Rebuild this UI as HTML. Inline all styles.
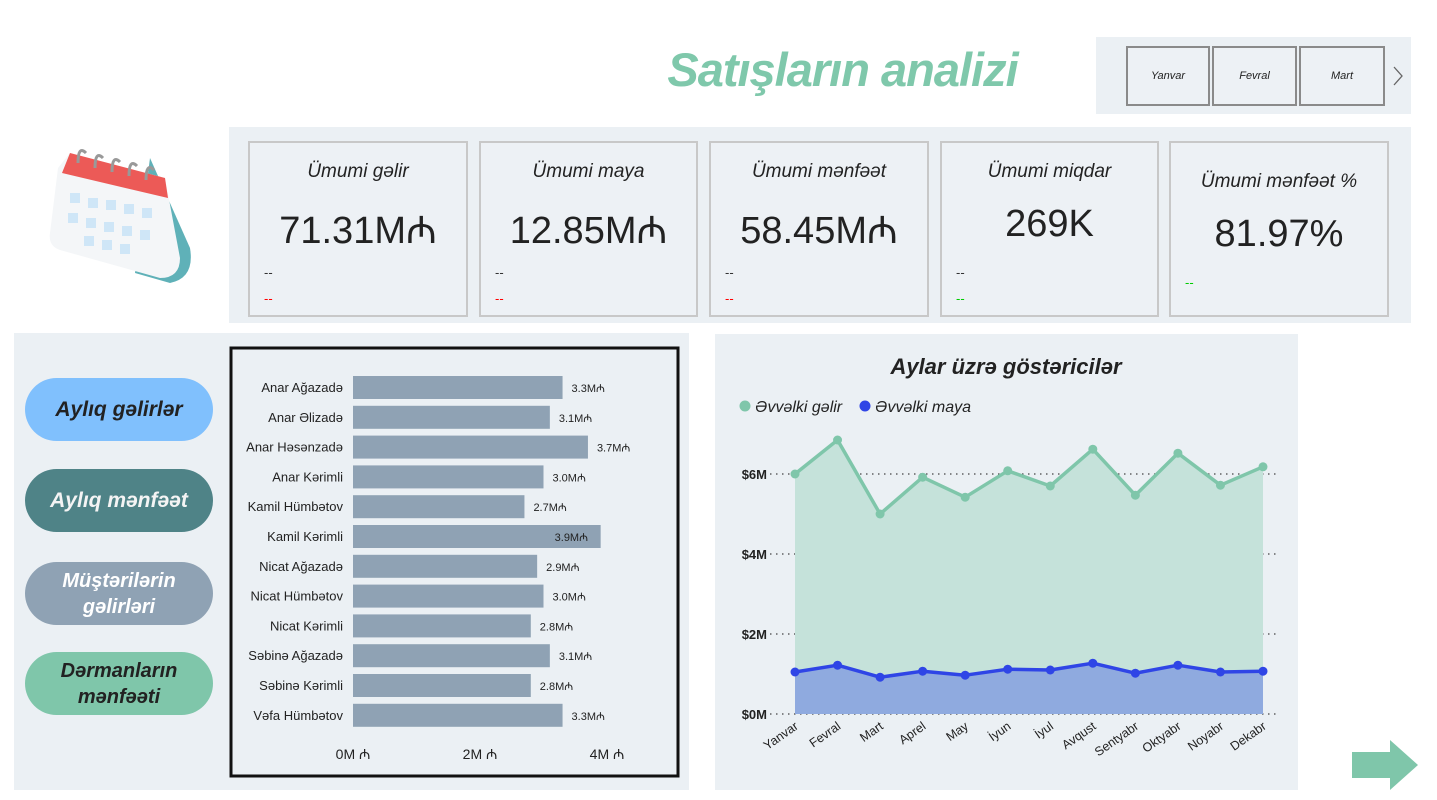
<!DOCTYPE html>
<html><head><meta charset="utf-8">
<style>
*{box-sizing:border-box;margin:0;padding:0}
body{width:1437px;height:800px;background:#fff;font-family:"Liberation Sans",sans-serif;position:relative;overflow:hidden}
.abs{position:absolute}
.title{left:640px;top:42px;width:405px;text-align:center;font-size:47px;font-weight:bold;font-style:italic;color:#7fc8ab;letter-spacing:-1px}
.slicer{left:1096px;top:37px;width:315px;height:77px;background:#ebf0f4}
.mbtn{top:9px;height:60px;border:2px solid #8a8a8a;background:#edf1f5;font-size:11px;font-style:italic;display:flex;align-items:center;justify-content:center;color:#222}
.kpiwrap{left:229px;top:127px;width:1182px;height:196px;background:#ebf0f4}
.card{top:14px;height:176px;border:2px solid #c8c8c8;background:#edf1f5}
.card .t{position:absolute;left:0;right:0;top:18px;text-align:center;font-size:19px;font-style:italic;color:#222}
.card .v{position:absolute;left:0;right:0;top:60px;text-align:center;font-size:38px;color:#222}
.card .d1{position:absolute;left:14px;top:122px;font-size:13px;color:#333}
.card .d2{position:absolute;left:14px;top:148px;font-size:13px;color:#f00}
.left{left:14px;top:333px;width:675px;height:457px;background:#ebf0f4}
.pill{left:25px;width:188px;height:63px;border-radius:32px;display:flex;align-items:center;justify-content:center;text-align:center;font-weight:bold;font-style:italic;font-size:21px;line-height:26px}
.right{left:715px;top:334px;width:583px;height:456px;background:#ebf0f4}
</style></head><body>
<div class="abs title">Satışların analizi</div>

<div class="abs slicer">
  <div class="abs mbtn" style="left:30px;width:84px">Yanvar</div>
  <div class="abs mbtn" style="left:116px;width:85px">Fevral</div>
  <div class="abs mbtn" style="left:203px;width:86px">Mart</div>
  <svg class="abs" style="left:296px;top:29px" width="12" height="20"><path d="M2 1 L10 10 L2 19" stroke="#666" stroke-width="1.3" fill="none"/></svg>
</div>

<svg class="abs" style="left:40px;top:138px" width="160" height="150">
  <path d="M110 20 L150 110 Q155 140 130 145 L95 135 Z" fill="#5fb1b8"/>
  <path d="M30 15 L125 40 L140 120 Q140 140 120 140 L20 112 Q8 108 10 95 L18 30 Z" fill="#f4f6f8"/>
  <path d="M30 15 L125 40 L128 60 L22 35 Z" fill="#ec5a57"/>
  <g fill="#cfe6f7"><rect x="30" y="55" width="10" height="10"/><rect x="48" y="60" width="10" height="10"/><rect x="66" y="62" width="10" height="10"/><rect x="84" y="66" width="10" height="10"/><rect x="102" y="70" width="10" height="10"/><rect x="28" y="75" width="10" height="10"/><rect x="46" y="80" width="10" height="10"/><rect x="64" y="84" width="10" height="10"/><rect x="82" y="88" width="10" height="10"/><rect x="100" y="92" width="10" height="10"/><rect x="44" y="98" width="10" height="10"/><rect x="62" y="102" width="10" height="10"/><rect x="80" y="106" width="10" height="10"/></g>
  <g stroke="#999" stroke-width="3" fill="none"><path d="M38 25 q0 -18 8 -10"/><path d="M55 30 q0 -18 8 -10"/><path d="M72 34 q0 -18 8 -10"/><path d="M89 38 q0 -18 8 -10"/><path d="M106 42 q0 -18 8 -10"/></g>
</svg>

<div class="abs kpiwrap">
  <div class="abs card" style="left:19px;width:220px"><div class="t">Ümumi gəlir</div><div class="v">71.31M₼</div><div class="d1">--</div><div class="d2">--</div></div>
  <div class="abs card" style="left:250px;width:219px"><div class="t">Ümumi maya</div><div class="v">12.85M₼</div><div class="d1">--</div><div class="d2">--</div></div>
  <div class="abs card" style="left:480px;width:220px"><div class="t">Ümumi mənfəət</div><div class="v">58.45M₼</div><div class="d1">--</div><div class="d2">--</div></div>
  <div class="abs card" style="left:711px;width:219px"><div class="t">Ümumi miqdar</div><div class="v">269K</div><div class="d1">--</div><div class="d2" style="color:#0c0">--</div></div>
  <div class="abs card" style="left:940px;width:220px"><div class="t" style="top:28px">Ümumi mənfəət %</div><div class="v" style="top:70px">81.97%</div><div class="d1" style="top:132px;color:#0c0">--</div></div>
</div>

<div class="abs left"></div>
<div class="abs pill" style="top:378px;background:#80c0fd;color:#222">Aylıq gəlirlər</div>
<div class="abs pill" style="top:469px;background:#4f8387;color:#f4f4f4">Aylıq mənfəət</div>
<div class="abs pill" style="top:562px;background:#8fa2b4;color:#fff;font-size:20px">Müştərilərin<br>gəlirləri</div>
<div class="abs pill" style="top:652px;background:#7fc6aa;color:#222;font-size:20px">Dərmanların<br>mənfəəti</div>

<svg class="abs" style="left:229px;top:346px" width="452" height="432" id="bar">
  <rect x="2" y="2" width="447" height="428" fill="#ebf0f4" stroke="#111" stroke-width="3"/>
</svg>

<div class="abs right"></div>
<svg class="abs" style="left:715px;top:334px" width="583" height="456" id="line"></svg>

<svg class="abs" style="left:1350px;top:738px" width="70" height="54">
  <path d="M2 14 H40 V2 L68 27 L40 52 V40 H2 Z" fill="#7fc6aa"/>
</svg>

<script>
const NS='http://www.w3.org/2000/svg';
function mk(p,t,a,txt){const e=document.createElementNS(NS,t);for(const k in a)e.setAttribute(k,a[k]);if(txt!==undefined)e.textContent=txt;p.appendChild(e);return e;}

const customers=['Anar Ağazadə','Anar Əlizadə','Anar Həsənzadə','Anar Kərimli','Kamil Hümbətov','Kamil Kərimli','Nicat Ağazadə','Nicat Hümbətov','Nicat Kərimli','Səbinə Ağazadə','Səbinə Kərimli','Vəfa Hümbətov'];
const customerRevenue=[3.3,3.1,3.7,3.0,2.7,3.9,2.9,3.0,2.8,3.1,2.8,3.3];
const barTicks=[0,2,4];

const bar=document.getElementById('bar');
const bx=v=>124+v*63.5;
const by=i=>30+i*29.8;
customers.forEach((c,i)=>{
  const y=by(i);
  const t=mk(bar,'text',{x:114,y:y+16,'text-anchor':'end','font-size':13,fill:'#222','font-family':'Liberation Sans'},c);
  
  
  const r=mk(bar,'rect',{x:bx(0),y:y,width:bx(customerRevenue[i])-bx(0),height:23,fill:'#8fa2b4'});
  
  
  const ex=bx(customerRevenue[i]);
  const inside=ex+50>420;
  const l=mk(bar,'text',{x:inside?ex-46:ex+9,y:y+16,'font-size':11,fill:'#222','font-family':'Liberation Sans'},customerRevenue[i].toFixed(1)+'M₼');
  
  
});
barTicks.forEach(v=>{
  const t=mk(bar,'text',{x:bx(v),y:413,'text-anchor':'middle','font-size':14,fill:'#222','font-family':'Liberation Sans'},v+'M ₼');
  
  
});

const months=['Yanvar','Fevral','Mart','Aprel','May','İyun','İyul','Avqust','Sentyabr','Oktyabr','Noyabr','Dekabr'];
const prevRevenue=[6.0,6.85,5.0,5.92,5.42,6.08,5.7,6.62,5.47,6.52,5.72,6.18];
const prevCost=[1.05,1.22,0.92,1.07,0.97,1.12,1.1,1.27,1.02,1.22,1.05,1.07];
const yTicks=[0,2,4,6];

const ln=document.getElementById('line');
const lx=i=>80+i*(468/11);
const ly=v=>380-v*40;
const tt=mk(ln,'text',{x:291,y:40,'text-anchor':'middle','font-size':22,'font-weight':'bold','font-style':'italic',fill:'#222','font-family':'Liberation Sans'},'Aylar üzrə göstəricilər');


const lg1=mk(ln,'circle',{cx:30,cy:72,r:5.5,fill:'#7fc6aa'});


const lt1=mk(ln,'text',{x:40,y:78,'font-size':16,'font-style':'italic',fill:'#222','font-family':'Liberation Sans'},'Əvvəlki gəlir');


const lg2=mk(ln,'circle',{cx:150,cy:72,r:5.5,fill:'#2f45e6'});


const lt2=mk(ln,'text',{x:160,y:78,'font-size':16,'font-style':'italic',fill:'#222','font-family':'Liberation Sans'},'Əvvəlki maya');



yTicks.forEach(v=>{
  const g=mk(ln,'line',{x1:55,x2:565,y1:ly(v),y2:ly(v),stroke:'#444','stroke-dasharray':'1.5,4.5','stroke-width':1.2});
  
  
  const t=mk(ln,'text',{x:52,y:ly(v)+5,'text-anchor':'end','font-size':13,'font-weight':'bold',fill:'#222','font-family':'Liberation Sans'},'$'+v+'M');
  
  
});
function area(vals,fill,name){
  let d='M'+lx(0)+','+ly(0);
  vals.forEach((v,i)=>d+=' L'+lx(i)+','+ly(v));
  d+=' L'+lx(vals.length-1)+','+ly(0)+' Z';
  const p=mk(ln,'path',{d:d,fill:fill});
  
  
}
function line(vals,col,name){
  const p=mk(ln,'polyline',{points:vals.map((v,i)=>lx(i)+','+ly(v)).join(' '),fill:'none',stroke:col,'stroke-width':3.5,'stroke-linejoin':'round'});
  
  
  vals.forEach((v,i)=>{
    const c=mk(ln,'circle',{cx:lx(i),cy:ly(v),r:4.5,fill:col});
    
    
  });
}
area(prevRevenue,'#c5e2da','revenue-area');
area(prevCost,'#8faadf','cost-area');
line(prevRevenue,'#7fc6aa','revenue-line');
line(prevCost,'#2f45e6','cost-line');
months.forEach((m,i)=>{
  const x=lx(i)+4,y=ly(0)+14;
  const t=mk(ln,'text',{x:x,y:y,'text-anchor':'end','font-size':12.5,fill:'#222','font-family':'Liberation Sans',transform:'rotate(-35 '+x+' '+y+')'},m);
  
  
});
</script>
</body></html>
